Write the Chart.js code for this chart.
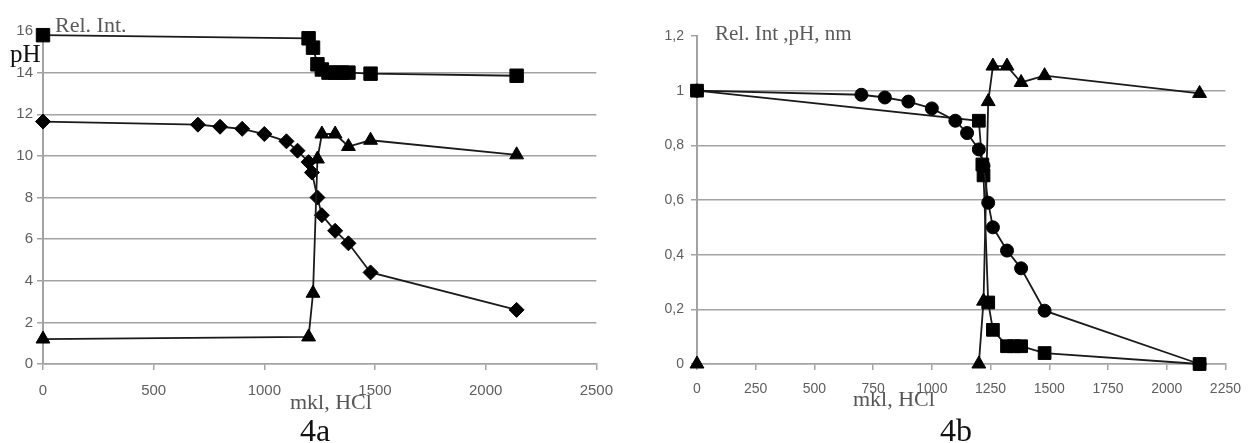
<!DOCTYPE html>
<html>
<head>
<meta charset="utf-8">
<script src="https://cdn.jsdelivr.net/npm/chart.js@4.4.1/dist/chart.umd.min.js"></script>
<style>
    body { margin: 0; background: #fff; width: 1252px; height: 443px; overflow: hidden; position: relative; }
    .box { position: absolute; top: 0; }
    .lbl { position: absolute; font-family: "Liberation Serif", "Times New Roman", serif; line-height: 1; white-space: nowrap; }
</style>
</head>
<body>
<div class="box" style="left:0px;"><canvas id="chartA" width="625" height="443"></canvas></div>
<div class="box" style="left:640px;"><canvas id="chartB" width="612" height="443"></canvas></div>

<div class="lbl" style="left:55px; top:14px; font-size:22px; color:#5a5a5a;">Rel. Int.</div>
<div class="lbl" style="left:10px; top:41px; font-size:25px; color:#111;">pH</div>
<div class="lbl" style="left:290px; top:391px; font-size:22px; color:#555;">mkl, HCl</div>
<div class="lbl" style="left:300px; top:414px; font-size:32px; color:#111;">4a</div>

<div class="lbl" style="left:715px; top:23px; font-size:21px; color:#5a5a5a;">Rel. Int ,pH, nm</div>
<div class="lbl" style="left:853px; top:388px; font-size:22px; color:#555;">mkl, HCl</div>
<div class="lbl" style="left:940px; top:414px; font-size:32px; color:#111;">4b</div>

<script>
// --- 4a ---
const xA_rel = [0, 1200, 1220, 1240, 1260, 1290, 1320, 1350, 1380, 1480, 2140];
const relA = [15.8, 15.65, 15.2, 14.4, 14.15, 14.0, 14.0, 14.0, 14.0, 13.95, 13.85];

const xA_ph = [0, 700, 800, 900, 1000, 1100, 1150, 1200, 1215, 1240, 1260, 1320, 1380, 1480, 2140];
const phA = [11.65, 11.5, 11.4, 11.3, 11.05, 10.7, 10.25, 9.7, 9.2, 8.0, 7.15, 6.4, 5.8, 4.4, 2.6];

const xA_nm = [0, 1200, 1220, 1240, 1260, 1320, 1380, 1480, 2140];
const nmA = [1.2, 1.3, 3.4, 9.85, 11.05, 11.05, 10.45, 10.75, 10.05];

// --- 4b ---
const xB_rel = [0, 1200, 1215, 1220, 1240, 1260, 1320, 1350, 1380, 1480, 2140];
const relB = [1.0, 0.89, 0.73, 0.69, 0.225, 0.125, 0.065, 0.065, 0.065, 0.04, 0.0];

const xB_ph = [0, 700, 800, 900, 1000, 1100, 1150, 1200, 1220, 1240, 1260, 1320, 1380, 1480, 2140];
const phB = [1.0, 0.985, 0.975, 0.96, 0.935, 0.89, 0.845, 0.785, 0.725, 0.59, 0.5, 0.415, 0.35, 0.195, 0.0];

const xB_nm = [0, 1200, 1220, 1240, 1260, 1320, 1380, 1480, 2140];
const nmB = [0, 0, 0.23, 0.96, 1.09, 1.09, 1.03, 1.055, 0.99];

const lineColor = '#1a1a1a';
const gridColor = '#a3a3a3';
const tickColor = '#5e5e5e';
const tickFont = '"Liberation Sans", Arial, sans-serif';

function points(xs, ys) {
    return xs.map((x, i) => ({ x: x, y: ys[i] }));
}

function series(xs, ys, style, radius, hideFirstSegment) {
    const ds = {
        data: points(xs, ys),
        showLine: true,
        borderColor: lineColor,
        borderWidth: 1.8,
        pointStyle: style,
        pointRadius: radius,
        pointBackgroundColor: '#000',
        pointBorderColor: '#000',
        pointBorderWidth: 1,
        clip: false
    };
    if (hideFirstSegment) {
        // the first point sits alone on the axis, no line to the next one
        ds.segment = { borderColor: c => c.p0DataIndex === 0 ? 'rgba(0,0,0,0)' : undefined };
    }
    return ds;
}

function makeChart(canvasId, datasets, cfg) {
    const ctx = document.getElementById(canvasId).getContext('2d');
    return new Chart(ctx, {
        type: 'scatter',
        data: { datasets: datasets },
        options: {
            responsive: false,
            animation: false,
            events: [],
            layout: { padding: { top: cfg.padTop, right: cfg.padRight, left: 0, bottom: 0 } },
            plugins: { legend: { display: false }, tooltip: { enabled: false } },
            scales: {
                x: {
                    type: 'linear',
                    min: 0,
                    max: cfg.xMax,
                    ticks: {
                        stepSize: cfg.xStep,
                        color: tickColor,
                        padding: cfg.xPad,
                        font: { family: tickFont, size: cfg.fontSize },
                        maxRotation: 0,
                        callback: value => String(value)
                    },
                    grid: { drawOnChartArea: false, drawTicks: true, tickLength: 6, color: gridColor, lineWidth: 1.5 },
                    border: { display: true, color: gridColor, width: 1.5 },
                    afterFit: scale => { scale.height = 443 - 364; }
                },
                y: {
                    min: 0,
                    max: cfg.yMax,
                    ticks: {
                        stepSize: cfg.yStep,
                        color: tickColor,
                        padding: cfg.yPad,
                        font: { family: tickFont, size: cfg.fontSize },
                        callback: value => String(Number(value.toFixed(2))).replace('.', ',')
                    },
                    grid: {
                        tickLength: 6,
                        lineWidth: 1.5,
                        tickColor: gridColor,
                        color: c => (c.tick && Math.abs(c.tick.value - cfg.yMax) < 1e-6) ? 'rgba(0,0,0,0)' : gridColor
                    },
                    border: { display: true, color: gridColor, width: 2 },
                    afterFit: scale => { scale.width = cfg.yWidth; }
                }
            }
        }
    });
}

makeChart('chartA', [
    series(xA_nm, nmA, 'triangle', 8),
    series(xA_ph, phA, 'rectRot', 7.5),
    series(xA_rel, relA, 'rect', 9.5)
], { xMax: 2500, xStep: 500, yMax: 16, yStep: 2, padTop: 31, padRight: 18, yWidth: 43, xPad: 12, yPad: 4, fontSize: 15 });

makeChart('chartB', [
    series(xB_ph, phB, 'circle', 6.5),
    series(xB_rel, relB, 'rect', 9),
    series(xB_nm, nmB, 'triangle', 8, true)
], { xMax: 2250, xStep: 250, yMax: 1.2, yStep: 0.2, padTop: 36, padRight: 19, yWidth: 57, xPad: 11, yPad: 7, fontSize: 14 });
</script>
</body>
</html>
